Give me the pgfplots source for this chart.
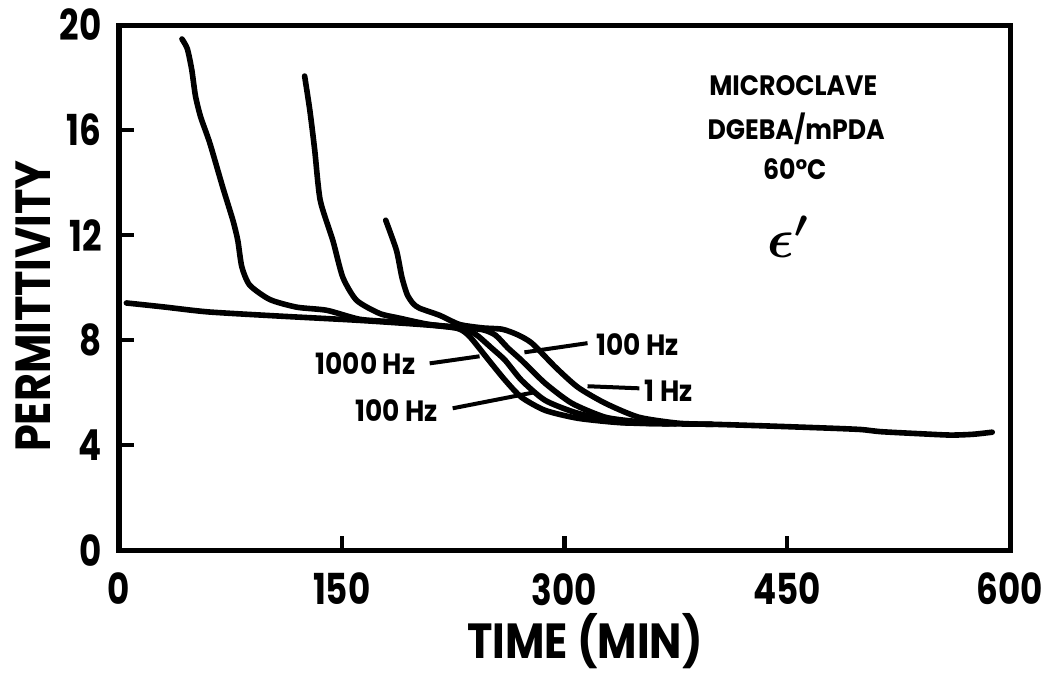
\documentclass[border=0pt]{standalone}
\usepackage{amsmath}
\usepackage{bm}
\usepackage{pgfplots}
\pgfplotsset{compat=1.18}
\usepackage{pgfplotstable}
\usepackage{fontspec}
\setmainfont{Poppins}
\newfontfamily\tickfont{Poppins}[FakeStretch=0.8]
\newfontfamily\labfont{Poppins}[FakeStretch=0.87]
\newfontfamily\annfont{Poppins}[FakeStretch=0.9]

\pgfplotstableread{
x y
5 9.42
30 9.27
60 9.08
108 8.92
161 8.76
208 8.58
228 8.45
236 8.15
249 7.24
260 6.48
271 5.83
287 5.33
309 5.03
338 4.86
370 4.82
400 4.80
435 4.74
480 4.65
500 4.60
513 4.52
540 4.44
560 4.39
575 4.42
588 4.50
}\curveA

\pgfplotstableread{
x y
42.4 19.47
46 19.1
49 18.3
51.5 17.3
55 16.5
61.2 15.5
70 13.8
76.7 12.57
80 11.8
82.7 10.8
88 10.1
101.6 9.55
119.7 9.26
140 9.14
162 8.80
185 8.70
208 8.60
228 8.47
236 8.36
242 8.15
251 7.70
260 7.24
271 6.48
287 5.71
309 5.22
338 4.88
370 4.82
}\curveB

\pgfplotstableread{
x y
125 18.06
128.5 16.76
131.8 15.24
135.5 13.33
144 11.8
150.7 10.4
160 9.52
175.5 9.02
189 8.84
209 8.60
228 8.50
245 8.40
253.6 8.19
262 7.70
271 7.24
287 6.36
305 5.60
327.5 5.07
350 4.90
375 4.82
}\curveC

\pgfplotstableread{
x y
179.6 12.57
186.8 11.43
190.5 10.4
194 9.75
198 9.4
202.4 9.22
215.9 8.95
229.4 8.60
245 8.47
258 8.42
268 8.22
278 7.89
294 6.97
309 6.21
327.5 5.60
350 5.07
377 4.84
400 4.80
}\curveD

\begin{document}
\begin{tikzpicture}
\begin{axis}[
  scale only axis,
  width=334pt, height=196.9pt,
  xmin=0, xmax=600, ymin=0, ymax=20,
  xtick={0,150,300,450,600},
  ytick={0,4,8,12,16,20},
  xtick pos=bottom, ytick pos=left,
  tick align=inside,
  major tick length=5.5pt,
  every tick/.style={black, line width=1.6pt},
  axis line style={line width=1.9pt},
  /pgf/number format/assume math mode=true,
  ticklabel style={font=\tickfont\bfseries\fontsize{16}{18}\selectfont},
  xticklabel style={anchor=north, yshift=-5pt},
  yticklabel style={anchor=east, xshift=-3pt},
  clip=false,
  every axis y label/.style={at={(axis description cs:0,0.465)}, xshift=-32pt, rotate=90, anchor=center, font=\labfont\bfseries\fontsize{18.5}{22}\selectfont},
  every axis x label/.style={at={(axis description cs:0.523,0)}, yshift=-34pt, anchor=center, font=\labfont\bfseries\fontsize{18.5}{22}\selectfont},
  xlabel={TIME (MIN)},
  ylabel={PERMITTIVITY},
]
\addplot[black, line width=2.1pt, smooth, tension=0.4, line cap=round, line join=round] table[x=x,y=y] {\curveA};
\addplot[black, line width=2.1pt, smooth, tension=0.4, line cap=round, line join=round] table[x=x,y=y] {\curveB};
\addplot[black, line width=2.1pt, smooth, tension=0.4, line cap=round, line join=round] table[x=x,y=y] {\curveC};
\addplot[black, line width=2.1pt, smooth, tension=0.4, line cap=round, line join=round] table[x=x,y=y] {\curveD};

\draw[black, line width=1.5pt] (axis cs:209.2,7.12) -- (axis cs:242.8,7.39);
\draw[black, line width=1.5pt] (axis cs:224.7,5.41) -- (axis cs:279.8,6.02);
\draw[black, line width=1.5pt] (axis cs:315.5,7.89) -- (axis cs:273,7.54);
\draw[black, line width=1.5pt] (axis cs:350.4,6.17) -- (axis cs:315.5,6.25);

\node[font=\annfont\bfseries\fontsize{11}{13}\selectfont] at (axis cs:166,7.12) {1000 Hz};
\node[font=\annfont\bfseries\fontsize{11}{13}\selectfont] at (axis cs:187,5.33) {100 Hz};
\node[font=\annfont\bfseries\fontsize{11}{13}\selectfont] at (axis cs:349,7.85) {100 Hz};
\node[font=\annfont\bfseries\fontsize{11}{13}\selectfont] at (axis cs:370,6.06) {1 Hz};

\node[font=\annfont\bfseries\fontsize{10.5}{12}\selectfont] at (axis cs:454,17.71) {MICROCLAVE};
\node[font=\annfont\bfseries\fontsize{10.5}{12}\selectfont] at (axis cs:456,16.04) {DGEBA/mPDA};
\node[font=\annfont\bfseries\fontsize{10.5}{12}\selectfont, inner sep=0pt] at (axis cs:455,14.5) {60°C};
\node[font=\fontsize{22}{24}\selectfont, inner sep=0pt] at (axis cs:450.6,11.95) {$\bm{\epsilon'}$};
\end{axis}
\pgfresetboundingbox
\useasboundingbox ([xshift=-44.6pt,yshift=-48.4pt]current axis.south west) rectangle ([xshift=16.1pt,yshift=9.4pt]current axis.north east);
\end{tikzpicture}
\end{document}
